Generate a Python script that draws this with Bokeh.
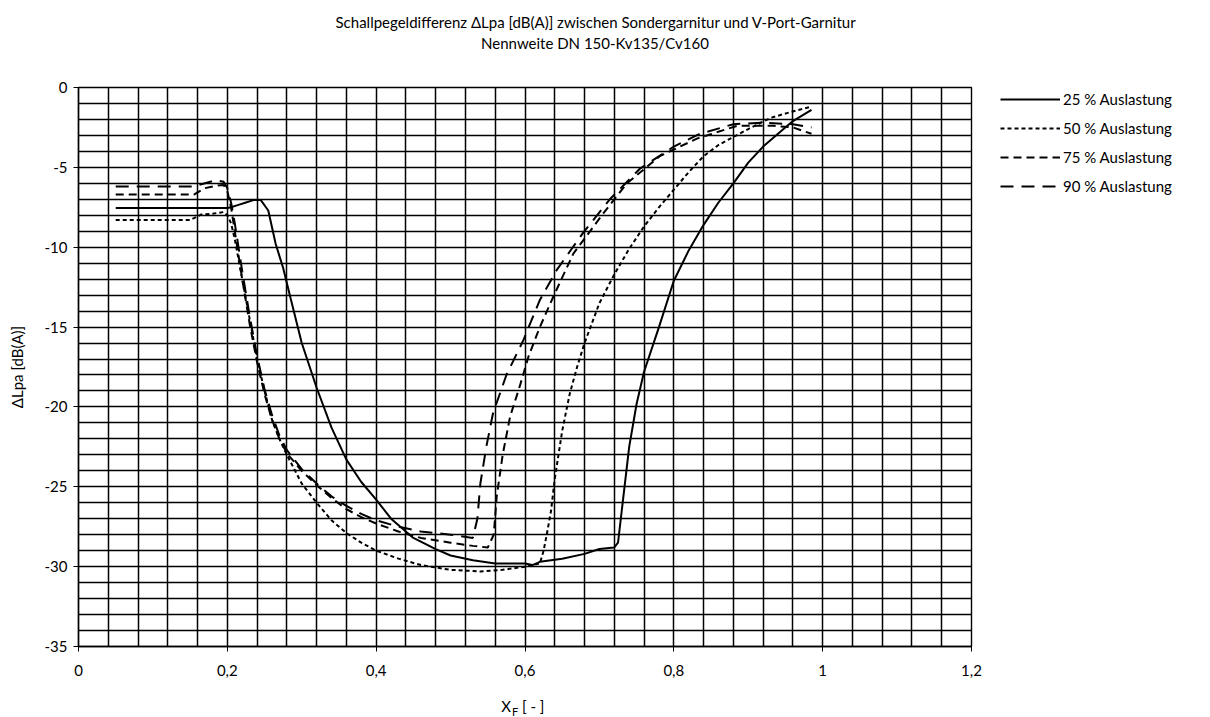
import math
from bokeh.plotting import figure
from bokeh.models import (FixedTicker, Label, Legend, LegendItem, Range1d,
                          CustomJSTickFormatter)
from bokeh.embed import file_html
from bokeh.resources import INLINE

FONT = "Lato"

# ---- data ----
x25 = [0.05, 0.10, 0.15, 0.20, 0.205, 0.215, 0.225, 0.235, 0.245, 0.255, 0.265,
       0.275, 0.285, 0.30, 0.32, 0.34, 0.36, 0.38, 0.40, 0.42, 0.45, 0.48, 0.50,
       0.53, 0.56, 0.60, 0.61, 0.62, 0.65, 0.68, 0.70, 0.72, 0.725, 0.73, 0.74,
       0.75, 0.76, 0.78, 0.80, 0.82, 0.84, 0.86, 0.88, 0.90, 0.92, 0.94, 0.96, 0.985]
y25 = [-7.55, -7.55, -7.55, -7.55, -7.5, -7.35, -7.2, -7.05, -7.05, -7.7, -9.8,
       -11.3, -13.2, -16.0, -18.8, -21.3, -23.3, -24.7, -25.8, -27.0, -28.2, -28.9, -29.3,
       -29.6, -29.8, -29.8, -29.9, -29.7, -29.5, -29.2, -28.9, -28.8, -28.5, -26.5, -22.5,
       -19.8, -17.8, -15.0, -12.1, -10.2, -8.6, -7.2, -6.0, -4.7, -3.7, -2.9, -2.1, -1.4]

x50 = [0.05, 0.10, 0.15, 0.165, 0.18, 0.195, 0.20, 0.205, 0.21, 0.22, 0.23, 0.24,
       0.25, 0.26, 0.27, 0.28, 0.29, 0.30, 0.32, 0.34, 0.36, 0.38, 0.40, 0.43, 0.46,
       0.50, 0.54, 0.57, 0.60, 0.62, 0.625, 0.63, 0.635, 0.64, 0.65, 0.66, 0.67, 0.68,
       0.70, 0.72, 0.74, 0.76, 0.78, 0.80, 0.82, 0.84, 0.86, 0.88, 0.90, 0.93, 0.96, 0.985]
y50 = [-8.3, -8.3, -8.3, -7.95, -7.9, -7.8, -8.0, -8.5, -9.5, -12.0, -14.5, -17.0,
       -19.0, -20.8, -22.0, -23.0, -23.9, -24.8, -26.0, -27.1, -27.9, -28.5, -29.0, -29.5, -29.9,
       -30.2, -30.3, -30.2, -30.0, -29.8, -29.0, -27.8, -26.5, -24.5, -21.5, -19.2, -17.5, -16.0,
       -13.5, -11.7, -10.1, -8.7, -7.5, -6.4, -5.3, -4.3, -3.6, -3.1, -2.6, -1.9, -1.5, -1.2]

x75 = [0.05, 0.10, 0.155, 0.17, 0.185, 0.195, 0.20, 0.205, 0.21, 0.22, 0.23, 0.24,
       0.25, 0.26, 0.27, 0.28, 0.30, 0.32, 0.34, 0.36, 0.38, 0.40, 0.43, 0.46, 0.50,
       0.53, 0.55, 0.558, 0.562, 0.57, 0.58, 0.593, 0.605, 0.62, 0.638, 0.665, 0.705,
       0.737, 0.781, 0.831, 0.885, 0.934, 0.96, 0.985]
y75 = [-6.7, -6.7, -6.7, -6.3, -6.15, -6.1, -6.5, -7.5, -9.0, -12.0, -14.8, -17.2,
       -19.2, -20.8, -22.0, -22.9, -24.0, -24.9, -25.7, -26.4, -26.9, -27.3, -27.8, -28.2, -28.5,
       -28.7, -28.8, -28.0, -25.6, -23.0, -20.6, -18.7, -16.8, -15.0, -13.1, -10.4, -7.9,
       -6.0, -4.3, -3.2, -2.4, -2.4, -2.5, -2.9]

x90 = [0.05, 0.10, 0.155, 0.17, 0.185, 0.195, 0.20, 0.205, 0.21, 0.22, 0.23, 0.24,
       0.25, 0.26, 0.27, 0.28, 0.30, 0.32, 0.34, 0.36, 0.38, 0.40, 0.43, 0.46, 0.50,
       0.53, 0.536, 0.54, 0.548, 0.557, 0.575, 0.598, 0.62, 0.643, 0.678, 0.714, 0.754,
       0.80, 0.835, 0.88, 0.92, 0.96, 0.985]
y90 = [-6.2, -6.2, -6.2, -6.0, -5.8, -5.9, -6.3, -7.2, -8.5, -11.5, -14.3, -16.8,
       -18.9, -20.5, -21.8, -22.7, -23.9, -24.8, -25.6, -26.2, -26.7, -27.1, -27.5, -27.8, -28.0,
       -28.2, -27.0, -24.8, -22.5, -20.4, -18.0, -15.8, -13.3, -11.4, -9.1, -7.0, -5.1,
       -3.7, -2.9, -2.3, -2.2, -2.3, -2.5]

series_labels = ["25 % Auslastung", "50 % Auslastung", "75 % Auslastung", "90 % Auslastung"]
x_ticks = [0, 0.2, 0.4, 0.6, 0.8, 1.0, 1.2]
y_ticks = [0, -5, -10, -15, -20, -25, -30, -35]
title1 = "Schallpegeldifferenz  \u0394Lpa [dB(A)] zwischen Sondergarnitur und V-Port-Garnitur"
title2 = "Nennweite DN 150-Kv135/Cv160"
ylabel = "\u0394Lpa [dB(A)]"

# ---- figure ----
p = figure(frame_width=893, frame_height=559,
           x_range=Range1d(0, 1.2), y_range=Range1d(-35, 0),
           output_backend="svg", toolbar_location=None,
           min_border_left=78, min_border_right=231,
           min_border_top=87, min_border_bottom=63)
p.background_fill_color = "white"
p.border_fill_color = "white"
p.outline_line_color = "black"
p.outline_line_width = 1.4

# grid
p.xgrid.ticker = FixedTicker(ticks=[round(i * 0.04, 2) for i in range(31)])
p.ygrid.ticker = FixedTicker(ticks=list(range(-35, 1)))
for g in (p.xgrid, p.ygrid):
    g.grid_line_color = "black"
    g.grid_line_width = 1.5
    g.grid_line_alpha = 1.0

# axes
p.xaxis.ticker = FixedTicker(ticks=x_ticks)
p.yaxis.ticker = FixedTicker(ticks=y_ticks)
p.xaxis.formatter = CustomJSTickFormatter(
    code="return (Math.round(tick*10)/10).toString().replace('.', ',');")
p.yaxis.formatter = CustomJSTickFormatter(code="return Math.round(tick).toString();")
for ax in (p.xaxis, p.yaxis):
    ax.axis_line_color = "black"
    ax.axis_line_width = 1.4
    ax.major_tick_line_color = "black"
    ax.major_tick_out = 5
    ax.major_tick_in = 0
    ax.minor_tick_line_color = None
    ax.major_label_text_font = FONT
    ax.major_label_text_font_size = "15px"
    ax.major_label_text_color = "black"
p.xaxis.major_label_standoff = 13
p.yaxis.major_label_standoff = 6
p.yaxis.axis_label = ylabel
p.yaxis.axis_label_text_font = FONT
p.yaxis.axis_label_text_font_size = "15px"
p.yaxis.axis_label_text_font_style = "normal"
p.yaxis.axis_label_text_color = "black"
p.yaxis.axis_label_standoff = 16

# curves
r25 = p.line(x25, y25, line_color="black", line_width=2)
r50 = p.line(x50, y50, line_color="black", line_width=2, line_dash="4 3")
r75 = p.line(x75, y75, line_color="black", line_width=2, line_dash="8 5")
r90 = p.line(x90, y90, line_color="black", line_width=2, line_dash="13 8")

legend = Legend(items=[LegendItem(label=series_labels[0], renderers=[r25]),
                       LegendItem(label=series_labels[1], renderers=[r50]),
                       LegendItem(label=series_labels[2], renderers=[r75]),
                       LegendItem(label=series_labels[3], renderers=[r90])],
                location=(27, 448))
legend.label_text_font = FONT
legend.label_text_font_size = "15px"
legend.label_text_color = "black"
legend.glyph_width = 60
legend.glyph_height = 20
legend.label_height = 20
legend.label_standoff = 3
legend.spacing = 9
legend.padding = 2
legend.margin = 0
legend.border_line_alpha = 0
legend.background_fill_alpha = 0
p.add_layout(legend, "right")

# texts placed in side panels (positioned with the plot's data scales)
def lab(x, y, text, side, size="15px", align="center"):
    p.add_layout(Label(x=x, y=y, text=text, text_font=FONT, text_font_size=size,
                       text_align=align, text_baseline="middle",
                       text_color="black"), side)

lab(0.698, 4.12, title1, "above")
lab(0.694, 2.80, title2, "above")

lab(0.5813, -38.7, "X", "below", align="right")
lab(0.5826, -39.1, "F", "below", size="11px", align="left")
lab(0.596, -38.7, "[ - ]", "below", align="left")

open("out.html", "w").write(file_html(p, INLINE))
